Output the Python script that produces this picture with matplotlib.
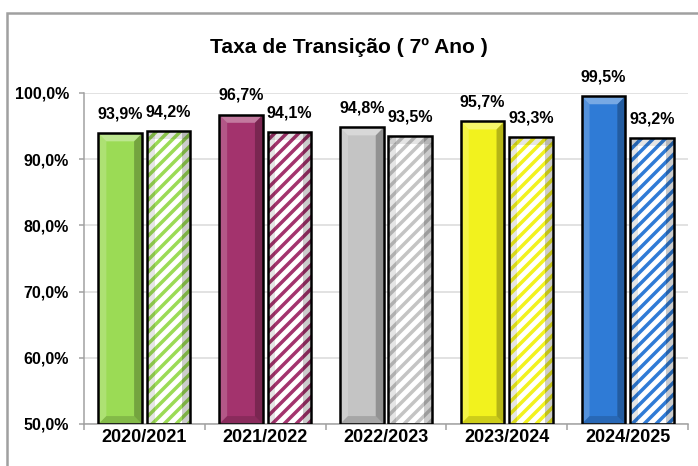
import numpy as np
import matplotlib.pyplot as plt
from matplotlib.patches import Polygon, Rectangle

plt.rcParams['font.family'] = ['Liberation Sans', 'DejaVu Sans']
plt.rcParams['font.weight'] = 'bold'
plt.rcParams['hatch.linewidth'] = 3.5

anos = ['2020/2021', '2021/2022', '2022/2023', '2023/2024', '2024/2025']
taxa_a = [93.9, 96.7, 94.8, 95.7, 99.5]
taxa_b = [94.2, 94.1, 93.5, 93.3, 93.2]
cores = ['#9BDB55', '#A3336D', '#C4C4C4', '#F2F21E', '#2F7BD6']
y_ticks = [50, 60, 70, 80, 90, 100]

W, H = 698, 466
fig = plt.figure(figsize=(W / 72, H / 72), dpi=72)
ax = fig.add_axes([84 / W, 1 - 424 / H, (688 - 84) / W, (424 - 93) / H])

x = np.arange(len(anos))
largura = 0.36
desl = 0.2
base = 50

bars_a = ax.bar(x - desl, np.array(taxa_a) - base, largura, bottom=base,
                color=cores, edgecolor='none', zorder=2)
bars_b = ax.bar(x + desl, np.array(taxa_b) - base, largura, bottom=base,
                color='white', edgecolor=cores, linewidth=0, hatch='//', zorder=2)

# bevel look
d = 0.065
h = 1.2
for b in bars_a:
    x0, y0, w, top = b.get_x(), b.get_y(), b.get_width(), b.get_y() + b.get_height()
    x1 = x0 + w
    faces = [
        ([(x0, top), (x1, top), (x1 - d, top - h), (x0 + d, top - h)], 'white', 0.35),
        ([(x0, top), (x0 + d, top - h), (x0 + d, y0 + h), (x0, y0)], 'white', 0.18),
        ([(x1, top), (x1 - d, top - h), (x1 - d, y0 + h), (x1, y0)], 'black', 0.25),
        ([(x0, y0), (x0 + d, y0 + h), (x1 - d, y0 + h), (x1, y0)], 'black', 0.15),
    ]
    for pts, c, a in faces:
        ax.add_patch(Polygon(pts, closed=True, facecolor=c, alpha=a, edgecolor='none', zorder=3))
for b in bars_b:
    x0, y0, w, top = b.get_x(), b.get_y(), b.get_width(), b.get_y() + b.get_height()
    ax.add_patch(Rectangle((x0, y0), d, top - y0, facecolor='black', alpha=0.1,
                           edgecolor='none', zorder=3))
    ax.add_patch(Rectangle((x0 + w - d, y0), d, top - y0, facecolor='black', alpha=0.2,
                           edgecolor='none', zorder=3))
    ax.add_patch(Rectangle((x0, top - h), w, h, facecolor='black', alpha=0.1,
                           edgecolor='none', zorder=3))

# outlines
for b in list(bars_a) + list(bars_b):
    ax.add_patch(Rectangle((b.get_x(), b.get_y()), b.get_width(), b.get_height(),
                           facecolor='none', edgecolor='black', linewidth=2.5, zorder=4))

for b, v in zip(list(bars_a) + list(bars_b), taxa_a + taxa_b):
    ax.annotate(f'{v:.1f}%'.replace('.', ','),
                (b.get_x() + b.get_width() / 2, b.get_y() + b.get_height()),
                xytext=(0, 12), textcoords='offset points', ha='center', va='bottom',
                fontsize=16, fontweight='bold', annotation_clip=False)

ax.set_xlim(-0.5, len(anos) - 0.5)
ax.set_ylim(50, 100)
ax.set_yticks(y_ticks)
ax.set_yticklabels([f'{t:.1f}%'.replace('.', ',') for t in y_ticks], fontsize=16)
ax.set_xticks(x)
ax.set_xticklabels(anos, fontsize=18)
ax.set_xticks(np.arange(len(anos) + 1) - 0.5, minor=True)
ax.tick_params(axis='x', which='major', length=0, pad=5)
ax.tick_params(axis='x', which='minor', length=6, width=1.5, color='#A0A0A0')
ax.tick_params(axis='y', length=5, width=1.5, color='#A0A0A0', pad=10)
ax.grid(axis='y', color='#D9D9D9', linewidth=1.5, zorder=0)
ax.set_axisbelow(True)
for s in ['top', 'right']:
    ax.spines[s].set_visible(False)
for s in ['left', 'bottom']:
    ax.spines[s].set_color('#A0A0A0')
    ax.spines[s].set_linewidth(1.5)

fig.text(0.5, 1 - 47 / H, 'Taxa de Transição ( 7º Ano )', ha='center', va='center',
         fontsize=21, fontweight='bold')

# chart frame
fig.add_artist(Rectangle((7 / W, -0.1), 1.2, 1 - 13 / H + 0.1, transform=fig.transFigure,
                         facecolor='none', edgecolor='#A0A0A0', linewidth=2.5))

fig.savefig('out.png', dpi=72)
